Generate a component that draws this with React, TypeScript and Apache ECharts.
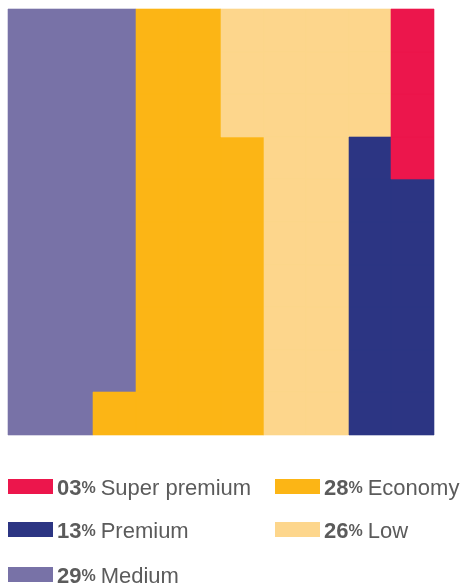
import React, { useEffect, useRef } from "react";
import * as echarts from "echarts";

// Fill order of the waffle (column by column, alternating direction)
const categories = ["Medium", "Economy", "Low", "Premium", "Super premium"];
const cellCounts = [29, 28, 26, 13, 4];
const colors = ["#7872A7", "#FCB515", "#FDD68C", "#2C3583", "#EC164C"];

// Legend (as printed)
const legendNames = ["Super premium", "Economy", "Premium", "Low", "Medium"];
const legendPct = ["03", "28", "13", "26", "29"];

const GRID_N = 10;

function buildCells() {
  const cells: number[][] = [];
  let idx = 0;
  categories.forEach((_, ci) => {
    for (let k = 0; k < cellCounts[ci]; k++) {
      const col = Math.floor(idx / GRID_N);
      const pos = idx % GRID_N;
      const row = col % 2 === 0 ? pos : GRID_N - 1 - pos;
      cells.push([col, row, ci]);
      idx++;
    }
  });
  return cells;
}

export default function App() {
  const ref = useRef<HTMLDivElement>(null);
  useEffect(() => {
    if (!ref.current) return;
    const chart = echarts.init(ref.current, undefined, { renderer: "svg" });
    const cells = buildCells();

    const legendPos = [
      { x: 8, y: 479 },
      { x: 275, y: 479 },
      { x: 8, y: 522 },
      { x: 275, y: 522 },
      { x: 8, y: 567 },
    ];
    const graphic: any[] = [];
    legendNames.forEach((name, i) => {
      const ci = categories.indexOf(name);
      const p = legendPos[i];
      graphic.push({
        type: "rect",
        left: p.x,
        top: p.y,
        shape: { width: 45, height: 15 },
        style: { fill: colors[ci] },
      });
      graphic.push({
        type: "text",
        x: p.x + 49,
        y: p.y + 8,
        style: {
          text: `{n|${legendPct[i]}}{p|%}{s| }{t|${name}}`,
          verticalAlign: "middle",
          rich: {
            n: { fontFamily: "Liberation Sans", fontWeight: "bold", fontSize: 22, fill: "#5b5b5b" },
            p: { fontFamily: "Liberation Sans", fontWeight: "bold", fontSize: 16, fill: "#5b5b5b" },
            s: { fontFamily: "Liberation Sans", fontSize: 22, width: 5 },
            t: { fontFamily: "Liberation Sans", fontSize: 22, fill: "#5b5b5b" },
          },
        },
      });
    });

    chart.setOption({
      animation: false,
      grid: { left: 8, top: 9, width: 426, height: 426 },
      xAxis: { type: "value", min: 0, max: GRID_N, show: false },
      yAxis: { type: "value", min: 0, max: GRID_N, inverse: true, show: false },
      series: [
        {
          type: "custom",
          data: cells,
          renderItem: (params: any, api: any) => {
            const x = api.value(0);
            const y = api.value(1);
            const ci = api.value(2);
            const p0 = api.coord([x, y]);
            const p1 = api.coord([x + 1, y + 1]);
            const x0 = Math.round(Math.min(p0[0], p1[0]));
            const x1 = Math.round(Math.max(p0[0], p1[0]));
            const y0 = Math.round(Math.min(p0[1], p1[1]));
            const y1 = Math.round(Math.max(p0[1], p1[1]));
            return {
              type: "rect",
              shape: { x: x0, y: y0, width: x1 - x0, height: y1 - y0 },
              style: { fill: colors[ci], stroke: colors[ci], lineWidth: 0.6 },
            };
          },
        },
      ],
      graphic,
    });
    return () => chart.dispose();
  }, []);
  return (
    <div
      ref={ref}
      style={{ position: "fixed", left: 0, top: 0, width: 462, height: 584 }}
    />
  );
}
